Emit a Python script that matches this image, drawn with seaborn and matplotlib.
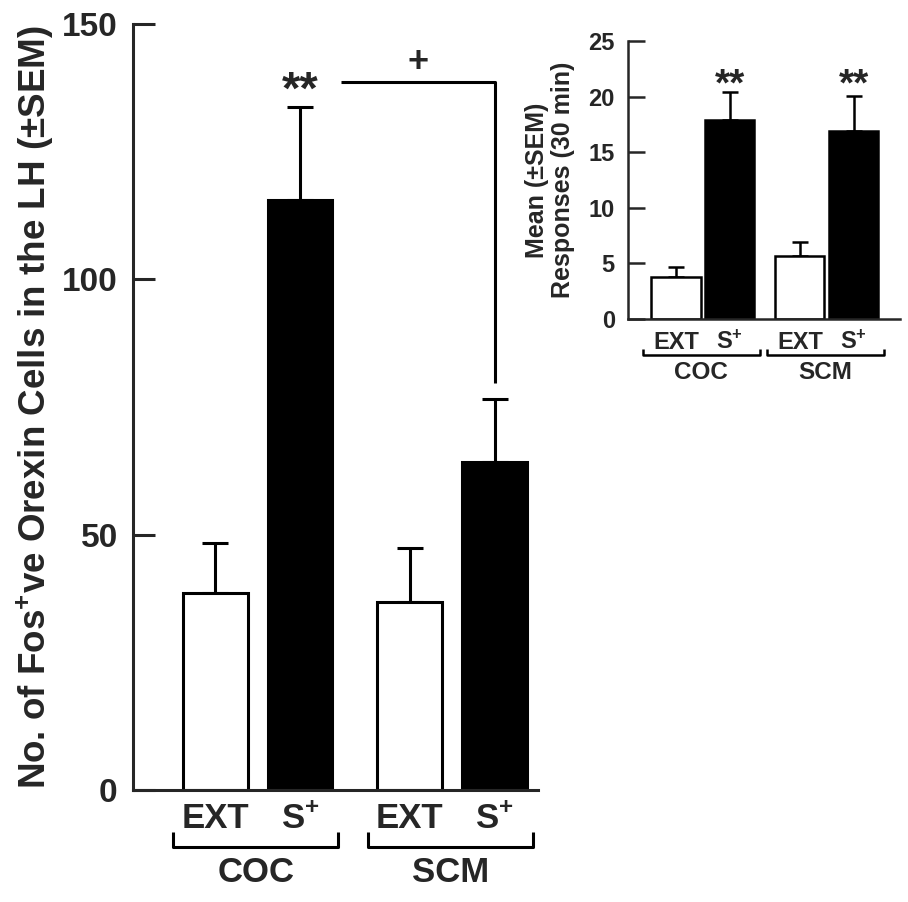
import pandas as pd
import matplotlib
matplotlib.use("Agg")
import matplotlib.pyplot as plt
import seaborn as sns

# values
groups = ["COC", "COC", "SCM", "SCM"]
conditions = ["EXT", "S+", "EXT", "S+"]
fos_mean = [38.6, 115.5, 36.8, 64.2]
fos_sem = [9.7, 18.2, 10.6, 12.4]
resp_mean = [3.8, 17.9, 5.7, 16.9]
resp_sem = [0.9, 2.5, 1.25, 3.15]
cond_labels = {"EXT": "EXT", "S+": "S$^{+}$"}

sns.set_style("ticks")
plt.rcParams["font.family"] = ["Liberation Sans", "DejaVu Sans"]
plt.rcParams["font.weight"] = "bold"
plt.rcParams["mathtext.fontset"] = "custom"
plt.rcParams["mathtext.rm"] = "Liberation Sans:bold"
plt.rcParams["mathtext.bf"] = "Liberation Sans:bold"
plt.rcParams["mathtext.default"] = "rm"

df = pd.DataFrame({"group": groups, "cond": conditions,
                   "fos": fos_mean, "fos_sem": fos_sem,
                   "resp": resp_mean, "resp_sem": resp_sem})
palette = {"EXT": "white", "S+": "black"}


def draw_panel(ax, col, sem_col, lw, width, gap, capsize, ylim, yticks,
               tick_fs, lab_fs, grp_fs, lab_y, br_y, tip_y, grp_y, br_pad, tick_len, pad):
    sns.barplot(data=df, x="group", y=col, hue="cond", palette=palette,
                edgecolor="black", linewidth=lw, width=width, gap=gap,
                errorbar=None, legend=False, ax=ax, zorder=2)
    bars = sorted(ax.patches, key=lambda p: p.get_x())
    xc = [p.get_x() + p.get_width() / 2 for p in bars]
    ax.errorbar(xc, df[col], yerr=[[0] * len(df), df[sem_col]], fmt="none",
                ecolor="black", elinewidth=lw, capsize=capsize, capthick=lw, zorder=1)
    ax.set_ylim(*ylim)
    ax.set_yticks(yticks)
    ax.tick_params(axis="y", direction="in", length=tick_len, width=lw,
                   labelsize=tick_fs, pad=pad)
    ax.tick_params(axis="x", length=0, labelbottom=False)
    ax.set_xlabel("")
    ax.set_ylabel("")
    for s in ["top", "right"]:
        ax.spines[s].set_visible(False)
    for s in ["left", "bottom"]:
        ax.spines[s].set_linewidth(lw)
    tr = ax.get_xaxis_transform()
    for x, c in zip(xc, conditions):
        ax.text(x, lab_y, cond_labels[c], transform=tr, ha="center", va="center",
                fontsize=lab_fs, fontweight="bold")
    for i, g in enumerate(["COC", "SCM"]):
        left = bars[2 * i].get_x() - br_pad
        right = bars[2 * i + 1].get_x() + bars[2 * i + 1].get_width() + br_pad * 0.6
        ax.plot([left, left, right, right], [tip_y, br_y, br_y, tip_y], color="black",
                lw=lw, transform=tr, clip_on=False, solid_capstyle="butt")
        ax.text((left + right) / 2, grp_y, g, transform=tr, ha="center", va="center",
                fontsize=grp_fs, fontweight="bold")
    return xc, bars


fig = plt.figure(figsize=(9.08, 9.02), dpi=100)

# main panel
ax = fig.add_axes([0.1465, 0.1242, 0.446, 0.8492])
xc, bars = draw_panel(ax, "fos", "fos_sem", 2.2, 0.872, 0.236, 9.4, (0, 150), [0, 50, 100, 150],
                      24, 25, 25, -0.037, -0.075, -0.055, -0.108, 0.05, 16, 11)
ax.set_xlim(-0.64, 1.44)
ax.set_ylabel("No. of Fos$^{+}$ve Orexin Cells in the LH (±SEM)", fontsize=26.5,
              fontweight="bold", va="center")
ax.yaxis.set_label_coords(-0.242, 0.5)
ax.text(xc[1], 136.8, "**", ha="center", va="center", fontsize=34, fontweight="bold")
x_left = xc[1] + 0.21
ax.plot([x_left, xc[3], xc[3]], [138.6, 138.6, 79.7], color="black", lw=2.2,
        solid_capstyle="butt", zorder=3)
ax.text((x_left + xc[3]) / 2, 142.5, "+", ha="center", va="center", fontsize=26,
        fontweight="bold")

# inset panel
axi = fig.add_axes([0.6916, 0.6463, 0.2996, 0.3082])
xi, _ = draw_panel(axi, "resp", "resp_sem", 1.8, 0.87, 0.09, 6.1, (0, 25), [0, 5, 10, 15, 20, 25],
                   17, 17, 17.5, -0.083, -0.129, -0.108, -0.194, 0.07, 12, 9.5)
axi.set_xlim(-0.605, 1.59)
axi.set_ylabel("Mean (±SEM)\nResponses (30 min)", fontsize=18, fontweight="bold",
               va="center", linespacing=1.1)
axi.yaxis.set_label_coords(-0.287, 0.5)
for i in [1, 3]:
    axi.text(xi[i], 21.0, "**", ha="center", va="center", fontsize=28, fontweight="bold")

fig.savefig("out.png", dpi=100)
